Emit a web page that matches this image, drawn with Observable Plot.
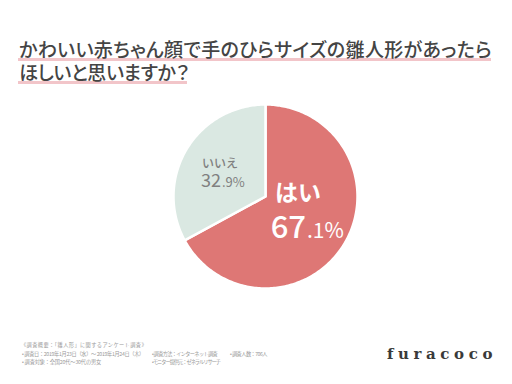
<!DOCTYPE html>
<html>
<head>
<meta charset="utf-8">
<script src="https://cdn.jsdelivr.net/npm/d3@7"></script>
<script src="https://cdn.jsdelivr.net/npm/@observablehq/plot@0.6"></script>
<style>
  html, body { margin: 0; padding: 0; background: #fff; }
  #wrap { position: relative; width: 512px; height: 384px; overflow: hidden; background: #fff; font-family: "Noto Sans CJK JP", "Noto Sans", sans-serif; }
  #chart { position: absolute; left: 0; top: 0; }
  .tl { position: absolute; left: 19px; white-space: nowrap; font-size: 19px; line-height: 19px; font-weight: 500; color: #444; font-feature-settings: "palt"; }
  .ul { position: absolute; left: 18px; height: 3px; background: #f2c5c9; }
  .fn { position: absolute; white-space: nowrap; font-size: 5.2px; line-height: 6px; color: #9a9a9a; }
  #brand { position: absolute; left: 387px; top: 347px; font-family: "DejaVu Serif", serif; font-weight: 700; font-size: 15px; line-height: 15px; color: #3a3a3a; white-space: nowrap; }
</style>
</head>
<body>
<div id="wrap">
  <div id="chart"></div>
  <div class="ul" style="top:58px;width:473px"></div>
  <div class="ul" style="top:81px;width:169px"></div>
  <div class="tl" id="t1" style="top:39px"></div>
  <div class="tl" id="t2" style="top:62px"></div>
  <div class="fn" id="f0" style="left:21px;top:342px"></div>
  <div class="fn" id="f1" style="left:22px;top:351px"></div>
  <div class="fn" id="f2" style="left:152px;top:351px"></div>
  <div class="fn" id="f3" style="left:230px;top:351px"></div>
  <div class="fn" id="f4" style="left:22px;top:359px"></div>
  <div class="fn" id="f5" style="left:152px;top:359px"></div>
  <div id="brand"></div>
</div>
<script>
// ---- data ----
const titleLines = ["かわいい赤ちゃん顔で手のひらサイズの雛人形があったら", "ほしいと思いますか？"];
const labels = ["はい", "いいえ"];
const values = [67.1, 32.9];
const colors = ["#de7775", "#dae8e2"];
const footHeader = "《調査概要：「雛人形」に関するアンケート調査》";
const footItems = [
  "• 調査日：2019年1月23日（水）～ 2019年1月24日（木）",
  "• 調査方法：インターネット調査",
  "• 調査人数：706人",
  "• 調査対象：全国20代～30代の男女",
  "• モニター提供元：ゼネラルリサーチ"
];
const brand = "furacoco";

// ---- slices ----
const total = d3.sum(values);
let acc = 0;
const slices = labels.map((label, i) => {
  const a0 = acc / total * 2 * Math.PI;
  acc += values[i];
  const a1 = acc / total * 2 * Math.PI;
  const mid = (a0 + a1) / 2;
  const parts = values[i].toFixed(1).split(".");
  return {label, value: values[i], a0, a1,
    cx: 0.5 * Math.sin(mid), cy: 0.5 * Math.cos(mid),
    major: parts[0], minor: "." + parts[1] + "%"};
});
const pts = [];
for (const s of slices) {
  pts.push({label: s.label, x: 0, y: 0});
  const n = Math.max(2, Math.ceil((s.a1 - s.a0) / (Math.PI / 180)));
  for (let k = 0; k <= n; k++) {
    const a = s.a0 + (s.a1 - s.a0) * k / n;
    pts.push({label: s.label, x: Math.sin(a), y: Math.cos(a)});
  }
  pts.push({label: s.label, x: 0, y: 0});
}
const yes = slices.filter(d => d.label === labels[0]);
const no = slices.filter(d => d.label === labels[1]);
const ff = "Noto Sans CJK JP, Noto Sans, sans-serif";

const chart = Plot.plot({
  width: 512, height: 384, margin: 0,
  style: {background: "transparent", fontFamily: ff},
  x: {domain: [-1, 1], range: [173, 357], axis: null},
  y: {domain: [-1, 1], range: [288, 104], axis: null},
  color: {domain: labels, range: colors},
  marks: [
    Plot.line(pts, {x: "x", y: "y", z: "label", fill: "label", stroke: "white", strokeWidth: 2.5, strokeLinejoin: "round", curve: "linear"}),
    Plot.text(yes, {x: "cx", y: "cy", text: "label", fill: "white", fontSize: 23, fontWeight: 700, dx: -7, dy: -26}),
    Plot.text(yes, {x: "cx", y: "cy", text: "major", fill: "white", fontSize: 31, fontWeight: 500, textAnchor: "end", dx: 1, dy: 8}),
    Plot.text(yes, {x: "cx", y: "cy", text: "minor", fill: "white", fontSize: 21, fontWeight: 400, textAnchor: "start", dx: 2, dy: 11}),
    Plot.text(no, {x: "cx", y: "cy", text: "label", fill: "#808080", fontSize: 12, fontWeight: 500, dx: -6, dy: -9}),
    Plot.text(no, {x: "cx", y: "cy", text: "major", fill: "#808080", fontSize: 18, fontWeight: 400, textAnchor: "end", dx: -5, dy: 8}),
    Plot.text(no, {x: "cx", y: "cy", text: "minor", fill: "#808080", fontSize: 13, fontWeight: 400, textAnchor: "start", dx: -4, dy: 10})
  ]
});
document.getElementById("chart").appendChild(chart);

// ---- texts ----
function fit(el, text, target) {
  el.textContent = text;
  el.style.letterSpacing = "0px";
  const w = el.getBoundingClientRect().width;
  const n = [...text].length;
  el.style.letterSpacing = ((target - w) / n) + "px";
}
fit(document.getElementById("t1"), titleLines[0], 473);
fit(document.getElementById("t2"), titleLines[1], 170);
fit(document.getElementById("f0"), footHeader, 126);
const footW = [122, 65, 37, 79, 68];
footItems.forEach((t, i) => fit(document.getElementById("f" + (i + 1)), t, footW[i]));
fit(document.getElementById("brand"), brand, 110);
</script>
</body>
</html>
